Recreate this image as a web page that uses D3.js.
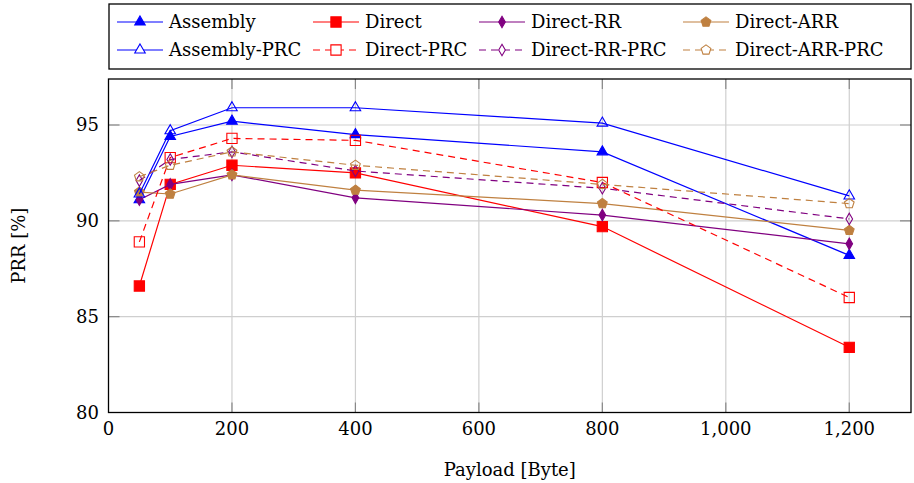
<!DOCTYPE html>
<html>
<head>
<meta charset="utf-8">
<script src="https://cdn.jsdelivr.net/npm/d3@7"></script>
<style>
  body { margin: 0; background: #fff; }
  text { font-family: "DejaVu Serif", serif; fill: #000; }
</style>
</head>
<body>
<svg id="chart" width="914" height="483"></svg>
<script>
// payload sizes (x) and PRR values per series
var payload = [50, 100, 200, 400, 800, 1200];
var assembly = [91.1, 94.4, 95.2, 94.5, 93.6, 88.2];
var direct = [86.6, 91.9, 92.9, 92.5, 89.7, 83.4];
var directRR = [91.1, 91.9, 92.4, 91.2, 90.3, 88.8];
var directARR = [91.5, 91.4, 92.4, 91.6, 90.9, 89.5];
var assemblyPRC = [91.4, 94.7, 95.9, 95.9, 95.1, 91.3];
var directPRC = [88.9, 93.3, 94.3, 94.2, 92.0, 86.0];
var directRRPRC = [92.1, 93.2, 93.6, 92.6, 91.7, 90.1];
var directARRPRC = [92.3, 92.9, 93.6, 92.9, 91.9, 90.9];
var xTicks = [0, 200, 400, 600, 800, 1000, 1200];
var yTicks = [80, 85, 90, 95];

var series = [
  { name: "Assembly", values: assembly, color: "#0000ff", mark: "triangle", filled: true, dashed: false },
  { name: "Direct", values: direct, color: "#ff0000", mark: "square", filled: true, dashed: false },
  { name: "Direct-RR", values: directRR, color: "#800080", mark: "diamond", filled: true, dashed: false },
  { name: "Direct-ARR", values: directARR, color: "#bf8040", mark: "pentagon", filled: true, dashed: false },
  { name: "Assembly-PRC", values: assemblyPRC, color: "#0000ff", mark: "triangle", filled: false, dashed: false },
  { name: "Direct-PRC", values: directPRC, color: "#ff0000", mark: "square", filled: false, dashed: true },
  { name: "Direct-RR-PRC", values: directRRPRC, color: "#800080", mark: "diamond", filled: false, dashed: true },
  { name: "Direct-ARR-PRC", values: directARRPRC, color: "#bf8040", mark: "pentagon", filled: false, dashed: true }
];

var pLeft = 108.5, pRight = 911, pTop = 79, pBottom = 412.5;
var svg = d3.select("#chart");

var x = d3.scaleLinear().domain([0, 1300]).range([pLeft, pRight]);
var y = d3.scaleLinear().domain([80, 97.4]).range([pBottom, pTop]);

// pentagon symbol
var pentagon = {
  draw: function (ctx, size) {
    var r = Math.sqrt(size / 2.3776);
    for (var i = 0; i < 5; i++) {
      var a = -Math.PI / 2 + i * 2 * Math.PI / 5;
      if (i === 0) ctx.moveTo(r * Math.cos(a), r * Math.sin(a));
      else ctx.lineTo(r * Math.cos(a), r * Math.sin(a));
    }
    ctx.closePath();
  }
};
function markPath(m) {
  if (m === "triangle") return d3.symbol().type(d3.symbolTriangle).size(48)();
  if (m === "square") return d3.symbol().type(d3.symbolSquare).size(105)();
  if (m === "diamond") return d3.symbol().type(d3.symbolDiamond).size(38)();
  return d3.symbol().type(pentagon).size(62)();
}

// grid
var grid = svg.append("g");
grid.selectAll("line.gx").data(xTicks.slice(1)).enter().append("line")
  .attr("x1", function (d) { return x(d); }).attr("x2", function (d) { return x(d); })
  .attr("y1", pTop).attr("y2", pBottom)
  .attr("stroke", "#cfcfcf").attr("stroke-width", 1.2);
grid.selectAll("line.gy").data(yTicks.slice(1)).enter().append("line")
  .attr("y1", function (d) { return y(d); }).attr("y2", function (d) { return y(d); })
  .attr("x1", pLeft).attr("x2", pRight)
  .attr("stroke", "#cfcfcf").attr("stroke-width", 1.2);

// ticks (inside, mirrored)
var ticks = svg.append("g").attr("stroke", "#888").attr("stroke-width", 1.2);
xTicks.slice(1).forEach(function (d) {
  ticks.append("line").attr("x1", x(d)).attr("x2", x(d)).attr("y1", pBottom).attr("y2", pBottom - 10);
  ticks.append("line").attr("x1", x(d)).attr("x2", x(d)).attr("y1", pTop).attr("y2", pTop + 10);
});
yTicks.slice(1).forEach(function (d) {
  ticks.append("line").attr("x1", pLeft).attr("x2", pLeft + 11).attr("y1", y(d)).attr("y2", y(d));
  ticks.append("line").attr("x1", pRight).attr("x2", pRight - 11).attr("y1", y(d)).attr("y2", y(d));
});

// tick labels
var fmt = d3.format(",");
svg.append("g").selectAll("text").data(xTicks).enter().append("text")
  .attr("x", function (d) { return x(d); }).attr("y", 435)
  .attr("text-anchor", "middle").attr("font-size", 18)
  .text(function (d) { return fmt(d); });
svg.append("g").selectAll("text").data(yTicks).enter().append("text")
  .attr("x", 99).attr("y", function (d) { return y(d) + 6; })
  .attr("text-anchor", "end").attr("font-size", 18)
  .text(function (d) { return d; });

// series
var line = d3.line()
  .x(function (d, i) { return x(payload[i]); })
  .y(function (d) { return y(d); });
var plots = svg.append("g");
series.forEach(function (s) {
  var g = plots.append("g");
  g.append("path")
    .attr("d", line(s.values))
    .attr("fill", "none")
    .attr("stroke", s.color)
    .attr("stroke-width", 1.2)
    .attr("stroke-dasharray", s.dashed ? "7,5" : null);
  g.selectAll("path.m").data(s.values).enter().append("path")
    .attr("d", markPath(s.mark))
    .attr("transform", function (d, i) { return "translate(" + x(payload[i]) + "," + y(d) + ")"; })
    .attr("fill", s.filled ? s.color : "none")
    .attr("stroke", s.color)
    .attr("stroke-width", 1.1);
});

// frame
svg.append("rect")
  .attr("x", pLeft).attr("y", pTop).attr("width", pRight - pLeft).attr("height", pBottom - pTop)
  .attr("fill", "none").attr("stroke", "#000").attr("stroke-width", 1.3);

// axis titles
svg.append("text").attr("x", (pLeft + pRight) / 2).attr("y", 476)
  .attr("text-anchor", "middle").attr("font-size", 18).text("Payload [Byte]");
svg.append("text").attr("transform", "translate(25," + (pTop + pBottom) / 2 + ") rotate(-90)")
  .attr("text-anchor", "middle").attr("font-size", 18).text("PRR [%]");

// legend
var legend = svg.append("g");
legend.append("rect").attr("x", 109).attr("y", 4).attr("width", 802).attr("height", 65)
  .attr("fill", "#fff").attr("stroke", "#000").attr("stroke-width", 1.3);
var colX = [117, 313, 479, 683];
var rowY = [22, 50];
series.forEach(function (s, i) {
  var cx = colX[i % 4], cy = rowY[Math.floor(i / 4)];
  legend.append("line").attr("x1", cx).attr("x2", cx + 46).attr("y1", cy).attr("y2", cy)
    .attr("stroke", s.color).attr("stroke-width", 1.2)
    .attr("stroke-dasharray", s.dashed ? "7,5" : null);
  legend.append("path").attr("d", markPath(s.mark))
    .attr("transform", "translate(" + (cx + 23) + "," + cy + ")")
    .attr("fill", s.filled ? s.color : "#fff").attr("stroke", s.color).attr("stroke-width", 1.1);
  legend.append("text").attr("x", cx + 52).attr("y", cy + 6).attr("font-size", 18).text(s.name);
});
</script>
</body>
</html>
